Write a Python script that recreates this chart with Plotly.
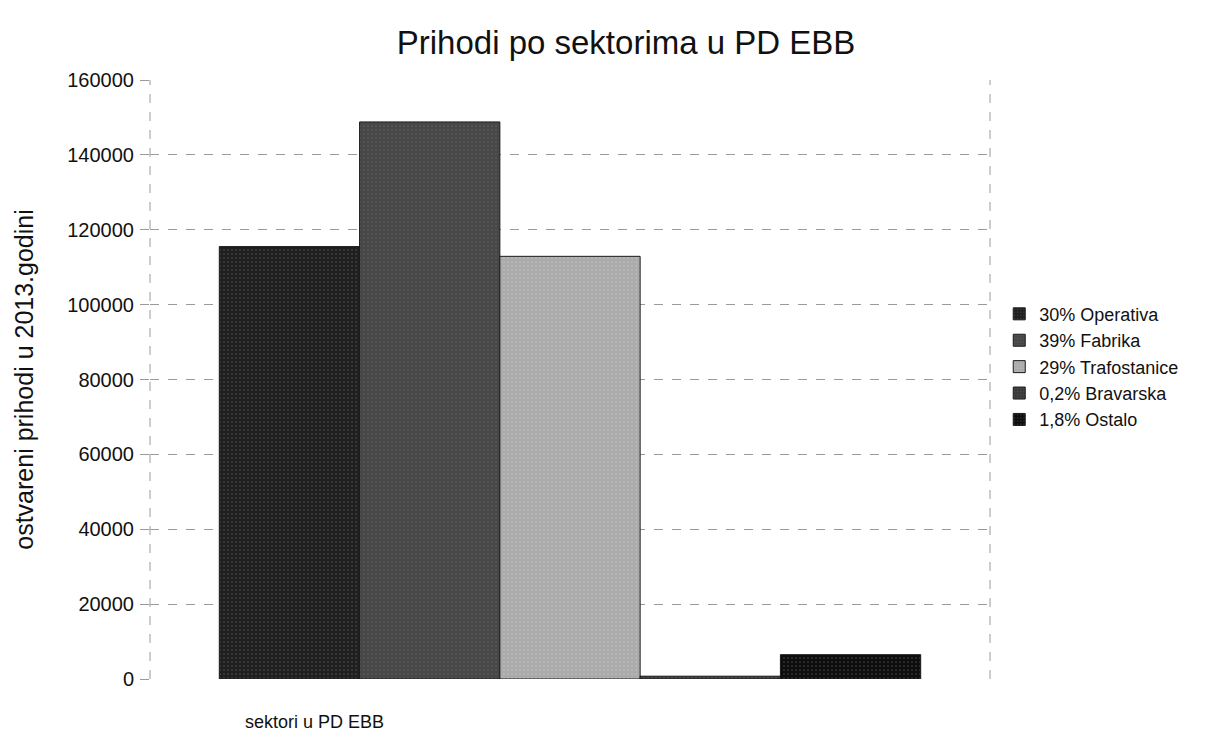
import plotly.graph_objects as go

sectors = ["30% Operativa", "39% Fabrika", "29% Trafostanice", "0,2% Bravarska", "1,8% Ostalo"]
revenues = [115500, 148800, 112900, 750, 6500]
colors = ["#1f1f1f", "#474747", "#ababab", "#3a3a3a", "#0d0d0d"]
category = ["sektori"]
y_ticks = [0, 20000, 40000, 60000, 80000, 100000, 120000, 140000, 160000]

fig = go.Figure()
for name, val, col in zip(sectors, revenues, colors):
    fig.add_trace(go.Bar(
        x=category, y=[val], name=name,
        marker=dict(color=col, line=dict(color="#1a1a1a", width=1),
                    pattern=dict(shape=".", size=4, solidity=0.15,
                                 fgcolor="#777777" if col != "#ababab" else "#d0d0d0")),
    ))

fig.update_layout(
    width=1219, height=728,
    paper_bgcolor="white", plot_bgcolor="white",
    barmode="group", bargap=0.165, bargroupgap=0,
    margin=dict(l=142, r=237, t=72, b=57),
    font=dict(family="Liberation Sans, Arial, sans-serif", color="#111111"),
    title=dict(text="Prihodi po sektorima u PD EBB", x=0.507, xanchor="center", y=0.953, yanchor="middle",
               font=dict(size=33, color="#111111")),
    legend=dict(x=1.011, y=0.64, xanchor="left", yanchor="top", font=dict(size=18),
                itemwidth=30, tracegroupgap=0, bgcolor="rgba(0,0,0,0)"),
    showlegend=True,
)
fig.update_xaxes(showticklabels=False, showgrid=False, zeroline=False, showline=False, range=[-0.5, 0.5])
fig.update_yaxes(range=[0, 160000], tickvals=y_ticks, ticktext=[str(v) for v in y_ticks],
                 showgrid=True, gridcolor="#9a9a9a", griddash="dash", gridwidth=1,
                 zeroline=False, showline=False, ticks="outside", ticklen=9, tickcolor="#9a9a9a",
                 tickfont=dict(size=20), ticklabelstandoff=2,
                 title=dict(text="ostvareni prihodi u 2013.godini", font=dict(size=25), standoff=26))
# dashed frame lines on left/right edges of the plot area
for xp in (0, 1):
    fig.add_shape(type="line", xref="paper", yref="paper", x0=xp, x1=xp, y0=0, y1=1,
                  line=dict(color="#9a9a9a", width=1, dash="dash"), layer="below")
fig.add_annotation(text="sektori u PD EBB", xref="paper", yref="paper", x=0.196, y=-0.072,
                   xanchor="center", yanchor="middle", showarrow=False, font=dict(size=18, color="#111111"))

fig.write_html("out.html")
